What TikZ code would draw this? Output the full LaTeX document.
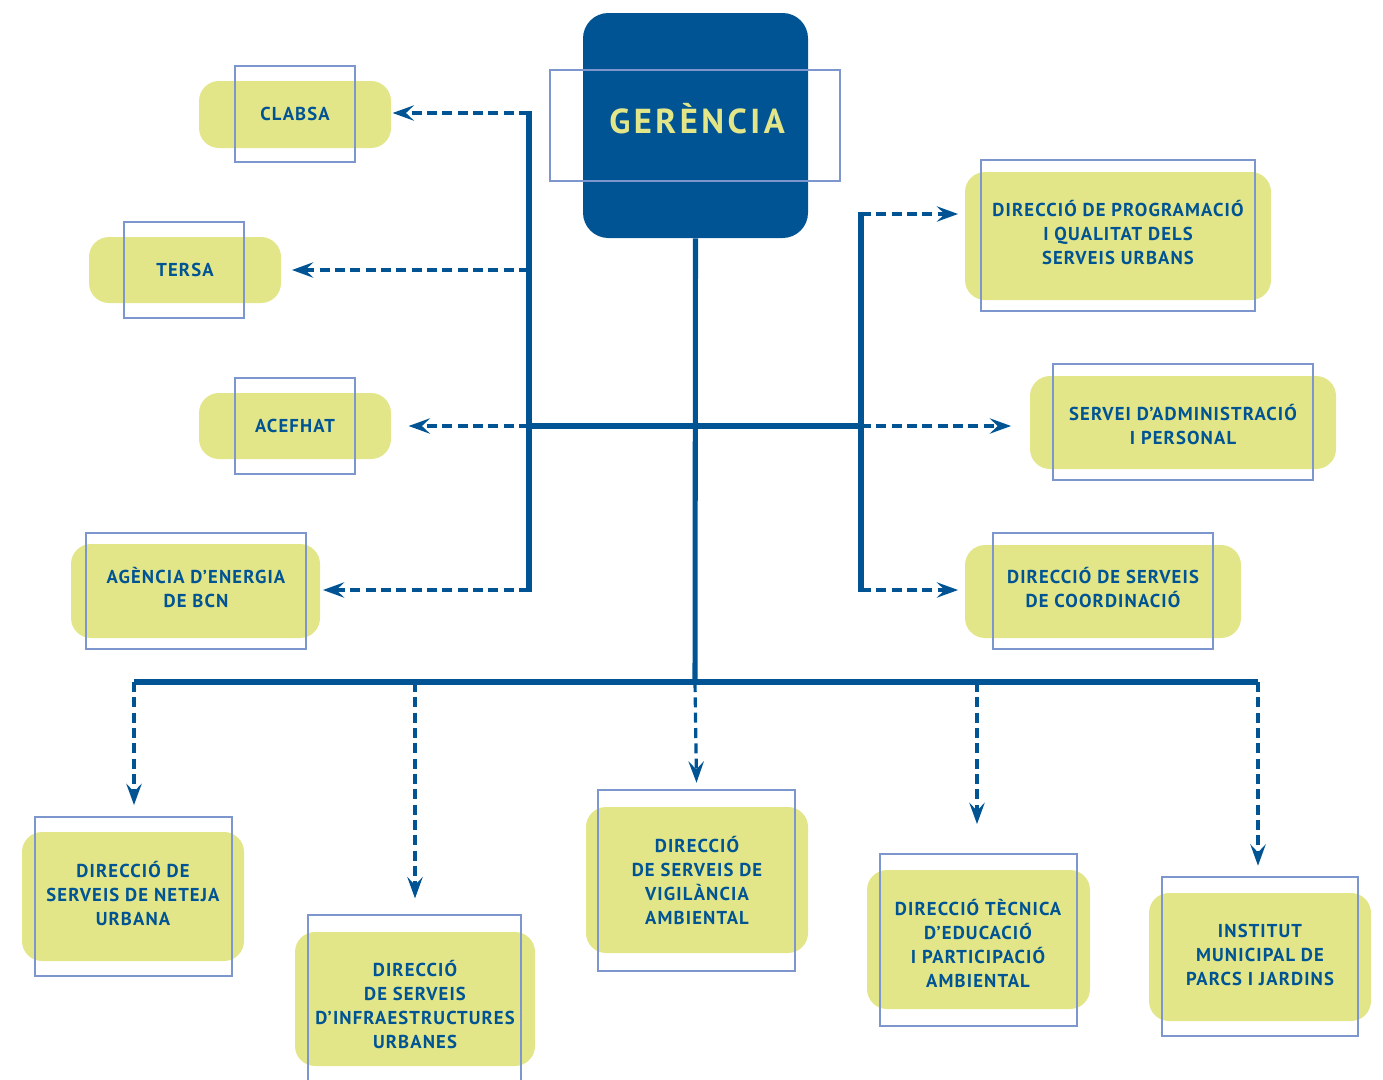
\documentclass[tikz,border=0pt]{standalone}
\usepackage{fontspec}
\setmainfont{PT Sans}[LetterSpace=6]
\newfontfamily\gerfont{PT Sans}[LetterSpace=10]
\usetikzlibrary{fit,arrows.meta}
\definecolor{dblue}{RGB}{0,84,148}
\definecolor{lgreen}{RGB}{226,230,136}
\definecolor{oblue}{RGB}{125,150,205}
\tikzset{
  gbox/.style={fill=lgreen, draw=none, rounded corners=15pt, inner sep=0pt},
  gtext/.style={inner sep=0pt, align=center, text=dblue,
    font=\fontsize{14}{18}\selectfont\bfseries, text height=#1, text depth=0pt},
  gtext/.default=9.8pt,
  obox/.style={draw=oblue, line width=0.9pt, inner sep=0pt},
  trunk/.style={draw=dblue, line width=3.8pt},
  darrow/.style={draw=dblue, line width=2.4pt, dash pattern=on 7.5pt off 4pt,
    -{Stealth[length=16pt,width=11.5pt,inset=6pt]}},
}
\begin{document}
\begin{tikzpicture}[x=0.75pt,y=-0.75pt]
\useasboundingbox (0,0) rectangle (1383,1079);
% Gerencia
\node[fill=dblue, rounded corners=19pt, inner sep=0pt, fit={(583,13)(808,238)}] (ger) {};
\node[inner sep=0pt, text=lgreen, font=\gerfont\fontsize{26}{30}\selectfont\bfseries,
  text height=18.3pt, text depth=0pt] (ger-t) at (697,121) {GERÈNCIA};
\node[obox, fit={(550,70)(840,181)}] (ger-o) {};
% left boxes
\node[gbox, fit={(199,81)(391,148)}] (clabsa) {};
\node[gtext] (clabsa-t) at (295,114) {CLABSA};
\node[obox, fit={(235,66)(355,162)}] (clabsa-o) {};
\node[gbox, fit={(89,237)(281,303)}] (tersa) {};
\node[gtext] (tersa-t) at (185,270) {TERSA};
\node[obox, fit={(124,222)(244,318)}] (tersa-o) {};
\node[gbox, fit={(199,393)(391,459)}] (acef) {};
\node[gtext] (acef-t) at (295,426) {ACEFHAT};
\node[obox, fit={(235,378)(355,474)}] (acef-o) {};
\node[gbox, fit={(71,544)(320,638)}] (agen) {};
\node[gtext=27.8pt] (agen-t) at (196,589) {AGÈNCIA D’ENERGIA\\DE BCN};
\node[obox, fit={(86,533)(306,649)}] (agen-o) {};
% right boxes
\node[gbox, fit={(965,172)(1271,300)}] (prog) {};
\node[gtext=45.8pt] (prog-t) at (1118,234) {DIRECCIÓ DE PROGRAMACIÓ\\I QUALITAT DELS\\SERVEIS URBANS};
\node[obox, fit={(981,160)(1255,311)}] (prog-o) {};
\node[gbox, fit={(1030,376)(1336,469)}] (adm) {};
\node[gtext=27.8pt] (adm-t) at (1183,426) {SERVEI D’ADMINISTRACIÓ\\I PERSONAL};
\node[obox, fit={(1053,364)(1313,480)}] (adm-o) {};
\node[gbox, fit={(965,545)(1241,638)}] (coord) {};
\node[gtext=27.8pt] (coord-t) at (1103,589) {DIRECCIÓ DE SERVEIS\\DE COORDINACIÓ};
\node[obox, fit={(993,533)(1213,649)}] (coord-o) {};
% bottom boxes
\node[gbox, fit={(22,832)(244,961)}] (net) {};
\node[gtext=45.8pt] (net-t) at (133,895) {DIRECCIÓ DE\\SERVEIS DE NETEJA\\URBANA};
\node[obox, fit={(35,817)(232,976)}] (net-o) {};
\node[gbox, fit={(295,932)(535,1066)}] (inf) {};
\node[gtext=63.8pt] (inf-t) at (415,1006) {DIRECCIÓ\\DE SERVEIS\\D’INFRAESTRUCTURES\\URBANES};
\node[obox, fit={(308,915)(521,1082)}] (inf-o) {};
\node[gbox, fit={(586,807)(808,953)}] (vig) {};
\node[gtext=63.8pt] (vig-t) at (697,882) {DIRECCIÓ\\DE SERVEIS DE\\VIGILÀNCIA\\AMBIENTAL};
\node[obox, fit={(598,790)(795,971)}] (vig-o) {};
\node[gbox, fit={(867,870)(1090,1009)}] (edu) {};
\node[gtext=63.8pt] (edu-t) at (978,945) {DIRECCIÓ TÈCNICA\\D’EDUCACIÓ\\I PARTICIPACIÓ\\AMBIENTAL};
\node[obox, fit={(880,854)(1077,1026)}] (edu-o) {};
\node[gbox, fit={(1149,893)(1371,1021)}] (parcs) {};
\node[gtext=45.8pt] (parcs-t) at (1260,955) {INSTITUT\\MUNICIPAL DE\\PARCS I JARDINS};
\node[obox, fit={(1162,877)(1358,1036)}] (parcs-o) {};
% junction coordinates
\coordinate (tb) at (695,682);
\coordinate (lm) at (529,426);
\coordinate (rm) at (861,426);
\coordinate (lt) at (529,113);
\coordinate (lt2) at (529,270);
\coordinate (lb) at (529,590);
\coordinate (rt) at (861,214);
\coordinate (rb) at (861,590);
\coordinate (bl) at (134,682);
\coordinate (bl2) at (415,682);
\coordinate (br2) at (977,682);
\coordinate (br) at (1258,682);
% dashed arrows
\draw[darrow] (lt) -- ([xshift=1pt]clabsa.east |- lt);
\draw[darrow] (lt2) -- ([xshift=8pt]tersa.east |- lt2);
\draw[darrow] (lm) -- ([xshift=13pt]acef.east |- lm);
\draw[darrow] (lb) -- ([xshift=2pt]agen.east |- lb);
\draw[darrow] (rt) -- ([xshift=-5pt]prog.west |- rt);
\draw[darrow] (rm) -- ([xshift=-14pt]adm.west |- rm);
\draw[darrow] (rb) -- ([xshift=-5pt]coord.west |- rb);
\draw[darrow] (bl) -- ([yshift=20pt]net.north -| bl);
\draw[darrow] (bl2) -- ([yshift=12pt]inf-o.north -| bl2);
\draw[darrow] (tb) -- ([yshift=5pt]vig-o.north);
\draw[darrow] (br2) -- ([yshift=22pt]edu-o.north -| br2);
\draw[darrow] (br) -- ([yshift=8pt]parcs-o.north -| br);
% solid trunk lines
\draw[trunk] (ger.south) -- (tb);
\draw[trunk] (lm) -- (rm);
\draw[trunk] ([yshift=1.4pt]lt) -- ([yshift=-1.4pt]lb);
\draw[trunk] ([yshift=1.4pt]rt) -- ([yshift=-1.4pt]rb);
\draw[trunk] (bl) -- (br);
\end{tikzpicture}
\end{document}
